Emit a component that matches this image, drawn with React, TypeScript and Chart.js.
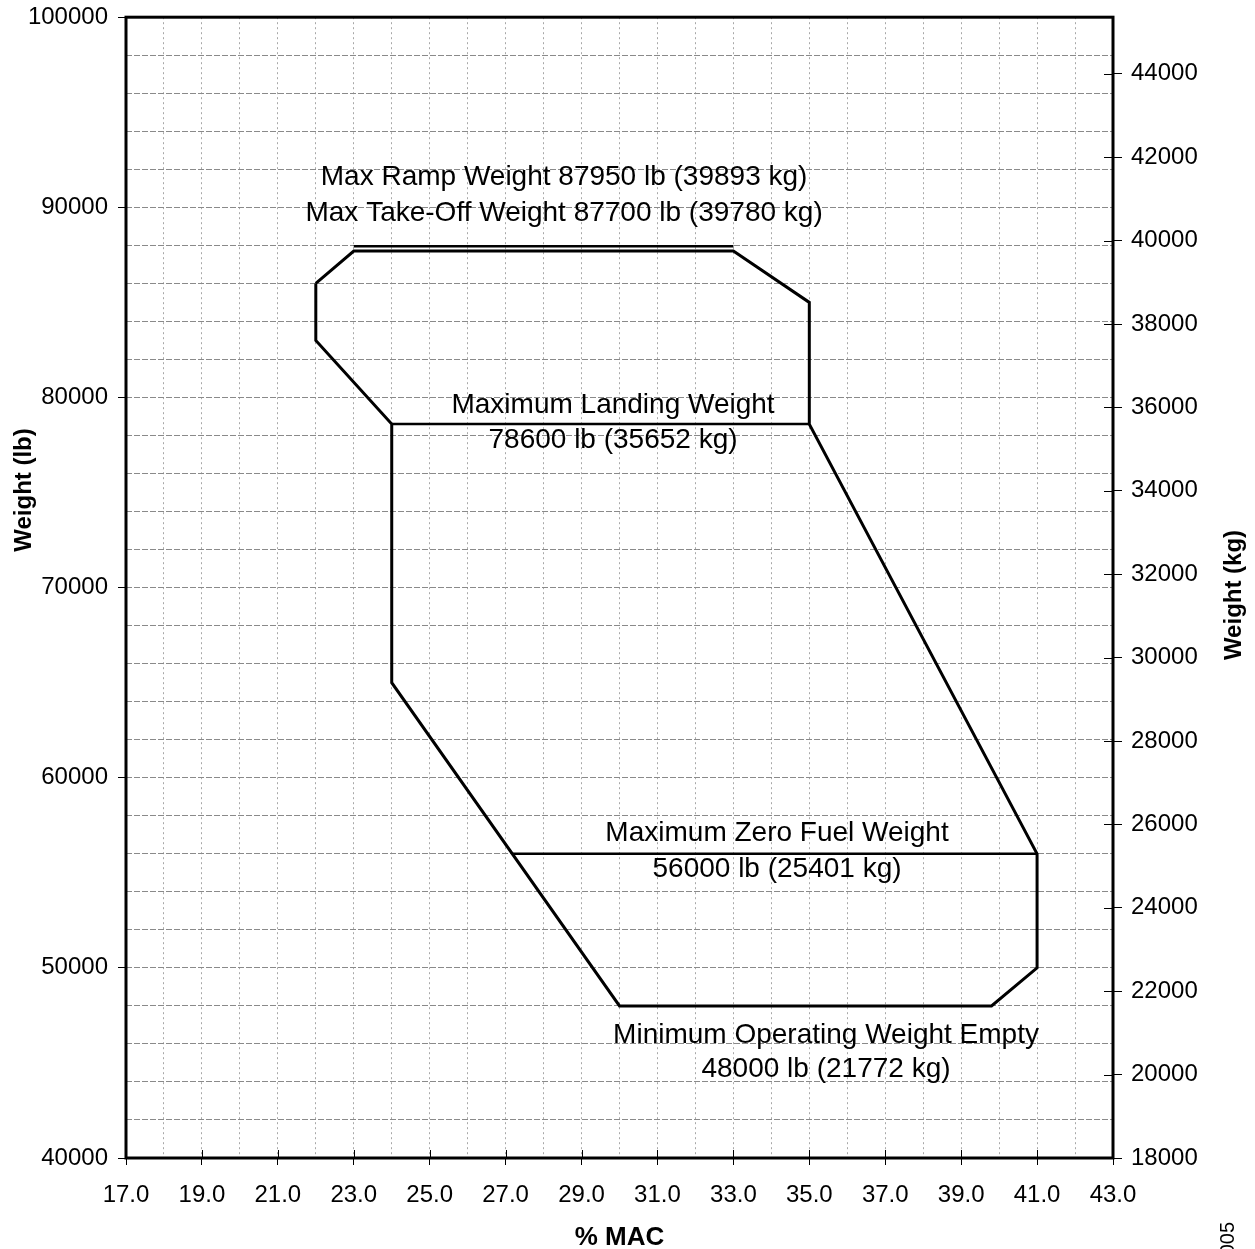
import React, { useEffect, useRef } from "react";
import { Chart, registerables } from "chart.js";

Chart.register(...registerables);

// ---- axis ranges / ticks ----
const macMin = 17;
const macMax = 43;
const lbMin = 40000;
const lbMax = 100000;
const kgMin = 18000;
const kgMax = 45359;
const kgTickValues = [18000, 20000, 22000, 24000, 26000, 28000, 30000, 32000, 34000, 36000, 38000, 40000, 42000, 44000];

// ---- envelope (x = % MAC, y = lb) ----
const envelopeMac = [22.0, 23.0, 33.0, 35.0, 35.0, 41.0, 41.0, 39.8, 30.0, 24.0, 24.0, 22.0, 22.0];
const envelopeLb = [86000, 87700, 87700, 85000, 78600, 56000, 50000, 48000, 48000, 65000, 78600, 83000, 86000];

const rampMac = [23.0, 33.0];
const rampLb = [87950, 87950];

const mlwMac = [24.0, 35.0];
const mlwLb = [78600, 78600];

const mzfwMac = [27.18, 41.0];
const mzfwLb = [56000, 56000];

// ---- annotation texts and anchors (data units) ----
const noteTexts = [
  "Max Ramp Weight 87950 lb (39893 kg)",
  "Max Take-Off Weight 87700 lb (39780 kg)",
  "Maximum Landing Weight",
  "78600 lb (35652 kg)",
  "Maximum Zero Fuel Weight",
  "56000 lb (25401 kg)",
  "Minimum Operating Weight Empty",
  "48000 lb (21772 kg)",
];
const noteMac = [28.54, 28.54, 29.83, 29.83, 34.15, 34.15, 35.44, 35.44];
const noteLb = [91600, 89700, 79600, 77760, 57090, 55200, 46470, 44680];

const xTitle = "% MAC";
const yTitle = "Weight (lb)";
const y2Title = "Weight (kg)";

const FONT = "'Liberation Sans', Arial, sans-serif";

function pts(xs: number[], ys: number[]) {
  return xs.map((x, i) => ({ x, y: ys[i] }));
}

const overlayPlugin = {
  id: "overlay",
  afterDraw(chart: any) {
    const { ctx, chartArea, scales } = chart;
    const { left, right, top, bottom } = chartArea;
    ctx.save();
    // inner halves of crossing tick marks
    ctx.strokeStyle = "#000";
    ctx.lineWidth = 1;
    for (let v = macMin; v <= macMax; v += 2) {
      const px = Math.round(scales.x.getPixelForValue(v)) + 0.5;
      ctx.beginPath();
      ctx.moveTo(px, bottom - 8);
      ctx.lineTo(px, bottom);
      ctx.stroke();
    }
    kgTickValues.forEach((v) => {
      const py = Math.round(scales.y2.getPixelForValue(v)) + 0.5;
      ctx.beginPath();
      ctx.moveTo(right - 9, py);
      ctx.lineTo(right, py);
      ctx.stroke();
    });
    // frame
    ctx.lineWidth = 3;
    ctx.strokeRect(left, top, right - left, bottom - top);

    // annotations
    ctx.fillStyle = "#000";
    ctx.font = `28px ${FONT}`;
    ctx.textAlign = "center";
    ctx.textBaseline = "middle";
    noteTexts.forEach((t, i) => {
      ctx.fillText(t, scales.x.getPixelForValue(noteMac[i]), scales.y.getPixelForValue(noteLb[i]));
    });

    // y axis titles (rotated, reading upward)
    ctx.font = `bold 24px ${FONT}`;
    ctx.save();
    ctx.translate(24, 490);
    ctx.rotate(-Math.PI / 2);
    ctx.fillText(yTitle, 0, 0);
    ctx.restore();
    ctx.save();
    ctx.translate(1234, 595);
    ctx.rotate(-Math.PI / 2);
    ctx.fillText(y2Title, 0, 0);
    ctx.restore();

    // page margin fragment
    ctx.save();
    ctx.font = `20px ${FONT}`;
    ctx.translate(1228, 1222);
    ctx.rotate(-Math.PI / 2);
    ctx.textAlign = "right";
    ctx.fillText("005", 0, 0);
    ctx.restore();

    ctx.restore();
  },
};

export default function App() {
  const ref = useRef<HTMLCanvasElement | null>(null);

  useEffect(() => {
    document.body.style.margin = "0";
    const canvas = ref.current;
    if (!canvas) return;
    const lineDs = (data: any[], width: number) => ({
      data,
      showLine: true,
      borderColor: "#000",
      backgroundColor: "#000",
      borderWidth: width,
      pointRadius: 0,
      pointHoverRadius: 0,
      fill: false,
      tension: 0,
      borderJoinStyle: "miter" as const,
    });
    const chart = new Chart(canvas, {
      type: "scatter",
      data: {
        datasets: [
          { ...lineDs(pts(envelopeMac, envelopeLb), 3), label: "Envelope" },
          { ...lineDs(pts(rampMac, rampLb), 2.5), label: "Max Ramp Weight" },
          { ...lineDs(pts(mlwMac, mlwLb), 2.5), label: "Maximum Landing Weight" },
          { ...lineDs(pts(mzfwMac, mzfwLb), 2.5), label: "Maximum Zero Fuel Weight" },
        ],
      },
      options: {
        responsive: false,
        maintainAspectRatio: false,
        animation: false,
        devicePixelRatio: 1,
        layout: { padding: { top: 17, left: 0, right: 0, bottom: 0 } },
        plugins: {
          legend: { display: false },
          tooltip: { enabled: false },
        },
        events: [],
        scales: {
          x: {
            type: "linear",
            position: "bottom",
            min: macMin,
            max: macMax,
            afterFit: (s: any) => {
              s.height = 91;
            },
            ticks: {
              stepSize: 1,
              autoSkip: false,
              maxRotation: 0,
              minRotation: 0,
              padding: 16,
              color: "#000",
              font: { family: FONT, size: 24 },
              callback: (v: any) => (Math.round(Number(v)) % 2 === 1 ? Number(v).toFixed(1) : ""),
            },
            grid: {
              color: "#a8a8a8",
              lineWidth: 1,
              tickLength: 7,
              tickBorderDash: [],
              tickColor: (c: any) =>
                c.tick && Math.round(c.tick.value) % 2 === 1 ? "#000" : "rgba(0,0,0,0)",
            },
            border: { display: false, dash: [2, 3] },
            title: {
              display: true,
              text: xTitle,
              color: "#000",
              font: { family: FONT, size: 26, weight: "bold", lineHeight: 1 },
              padding: { top: 0, bottom: -2 },
            },
          },
          y: {
            type: "linear",
            position: "left",
            min: lbMin,
            max: lbMax,
            afterFit: (s: any) => {
              s.width = 126;
            },
            ticks: {
              stepSize: 2000,
              autoSkip: false,
              padding: 10,
              color: "#000",
              font: { family: FONT, size: 24, lineHeight: 0.6 },
              callback: (v: any) => (Number(v) % 10000 === 0 ? String(v) : ""),
            },
            grid: {
              color: "#8a8a8a",
              lineWidth: 1,
              tickLength: 8,
              tickBorderDash: [],
              tickColor: (c: any) =>
                c.tick && c.tick.value % 10000 === 0 ? "#000" : "rgba(0,0,0,0)",
            },
            border: { display: false, dash: [6, 2] },
          },
          y2: {
            type: "linear",
            position: "right",
            min: kgMin,
            max: kgMax,
            afterFit: (s: any) => {
              s.width = 142;
            },
            afterBuildTicks: (s: any) => {
              s.ticks = kgTickValues.map((value) => ({ value }));
            },
            ticks: {
              autoSkip: false,
              padding: 9,
              color: "#000",
              font: { family: FONT, size: 24, lineHeight: 0.6 },
              callback: (v: any) => String(v),
            },
            grid: {
              drawOnChartArea: false,
              tickLength: 9,
              tickColor: "#000",
              tickBorderDash: [],
            },
            border: { display: false },
          },
        },
      },
      plugins: [overlayPlugin],
    });
    return () => chart.destroy();
  }, []);

  return (
    <canvas
      ref={ref}
      width={1255}
      height={1249}
      style={{ display: "block", width: "1255px", height: "1249px", background: "#fff" }}
    />
  );
}
